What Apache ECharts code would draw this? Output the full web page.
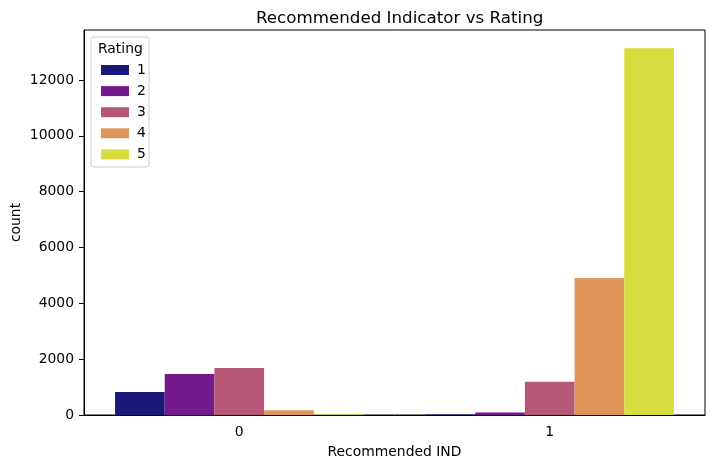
<!DOCTYPE html>
<html><head><meta charset="utf-8">
<script src="https://cdn.jsdelivr.net/npm/echarts@6/dist/echarts.min.js"></script>
<style>html,body{margin:0;padding:0;background:#fff}#c{width:713px;height:468px}</style>
</head><body><div id="c"></div>
<script>
const categories = ['0', '1'];
const ratings = ['1', '2', '3', '4', '5'];
const rating1 = [826, 16];
const rating2 = [1471, 94];
const rating3 = [1682, 1189];
const rating4 = [168, 4909];
const rating5 = [25, 13131];
const yTicks = [0, 2000, 4000, 6000, 8000, 10000, 12000];
const colors = ['#1a1878', '#75198f', '#b85878', '#e0965a', '#d6dd3c'];
const allSeries = [rating1, rating2, rating3, rating4, rating5];
const font = 'DejaVu Sans';
const fs = 13.9;
const chart = echarts.init(document.getElementById('c'));
chart.setOption({
  animation: false,
  title: {text: 'Recommended Indicator vs Rating', left: 251, top: 5,
    textStyle: {fontFamily: font, fontSize: 16.7, fontWeight: 'normal', color: '#000'}},
  grid: {left: 84, right: 8, top: 30, bottom: 53, show: true, borderColor: '#000', borderWidth: 1,
    containLabel: false, outerBoundsMode: 'none'},
  legend: {orient: 'vertical', left: 96, top: 58, itemWidth: 28, itemHeight: 10, itemGap: 7.1,
    icon: 'rect', data: ratings,
    textStyle: {fontFamily: font, fontSize: fs, lineHeight: 14, color: '#000', padding: [0, 0, 0, 3]}},
  graphic: [
    {type: 'rect', shape: {x: 91, y: 37, width: 58, height: 130, r: 3},
      style: {fill: 'rgba(255,255,255,0.8)', stroke: '#ccc', lineWidth: 1}, z: 0},
    {type: 'text', left: 98, top: 42, style: {text: 'Rating', font: '13.9px "DejaVu Sans"', fill: '#000'}}
  ],
  xAxis: {type: 'category', data: categories, name: 'Recommended IND', nameLocation: 'middle', nameGap: 30,
    nameMoveOverlap: false,
    nameTextStyle: {fontFamily: font, fontSize: fs, color: '#000'},
    axisLine: {lineStyle: {color: '#000'}}, axisTick: {alignWithLabel: true, length: 5, lineStyle: {color: '#000'}},
    axisLabel: {fontFamily: font, fontSize: fs, color: '#000', margin: 10}},
  yAxis: {type: 'value', min: 0, max: 13788, interval: 2000, name: 'count', nameLocation: 'middle', nameGap: 61,
    nameMoveOverlap: false,
    nameTextStyle: {fontFamily: font, fontSize: fs, color: '#000'},
    splitLine: {show: false},
    axisLine: {show: true, lineStyle: {color: '#000'}},
    axisTick: {show: true, length: 5, lineStyle: {color: '#000'}, customValues: yTicks},
    axisLabel: {fontFamily: font, fontSize: fs, color: '#000', margin: 10, customValues: yTicks,
      formatter: v => String(v)}},
  series: allSeries.map((d, i) => ({
    name: ratings[i], type: 'bar', data: d, barGap: '0%', barCategoryGap: '20%',
    itemStyle: {color: colors[i]}
  }))
});
</script></body></html>
